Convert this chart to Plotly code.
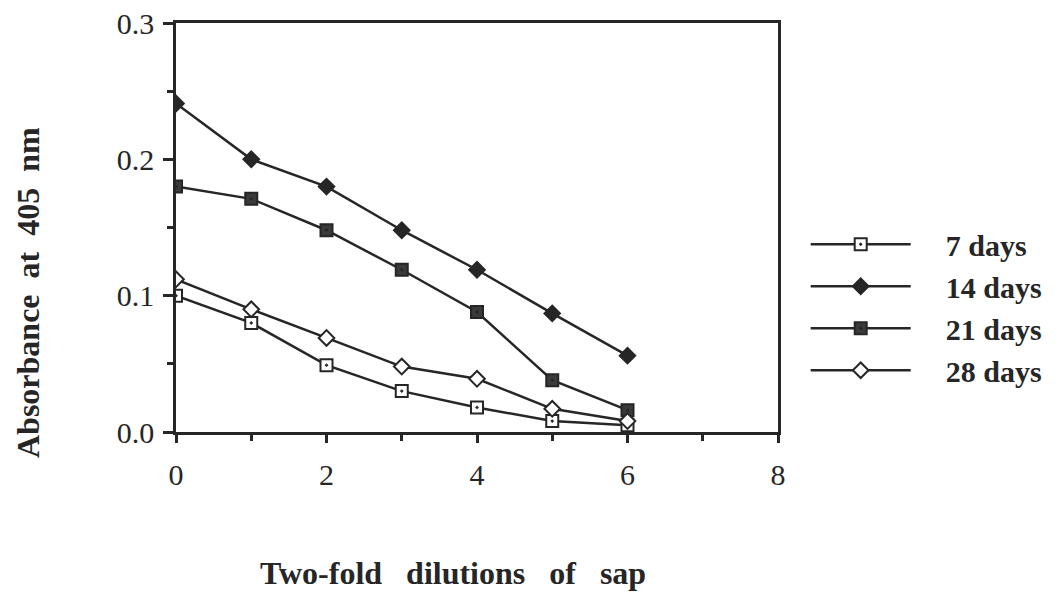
import plotly.graph_objects as go

dilutions = [0, 1, 2, 3, 4, 5, 6]
series_names = ["7 days", "14 days", "21 days", "28 days"]
days7 = [0.100, 0.080, 0.049, 0.030, 0.018, 0.008, 0.005]
days14 = [0.241, 0.200, 0.180, 0.148, 0.119, 0.087, 0.056]
days21 = [0.180, 0.171, 0.148, 0.119, 0.088, 0.038, 0.016]
days28 = [0.112, 0.090, 0.069, 0.048, 0.039, 0.017, 0.008]
y_ticks = [0.0, 0.1, 0.2, 0.3]
y_ticktext = ["0.0", "0.1", "0.2", "0.3"]
x_ticks = [0, 2, 4, 6, 8]
x_title = "Two-fold&nbsp;&nbsp; dilutions&nbsp;&nbsp; of&nbsp;&nbsp; sap"
y_title = "Absorbance&nbsp; at&nbsp; 405&nbsp; nm"

ink = "#262626"
styles = [
    dict(symbol="square-dot", color="white"),
    dict(symbol="diamond", color=ink),
    dict(symbol="square-dot", color="#3a3a3a"),
    dict(symbol="diamond", color="white"),
]

fig = go.Figure()
for name, vals, st in zip(series_names, [days7, days14, days21, days28], styles):
    fig.add_trace(go.Scatter(
        x=dilutions, y=vals, name="&nbsp;&nbsp;&nbsp;&nbsp;" + name, mode="lines+markers",
        line=dict(color=ink, width=2.5),
        marker=dict(symbol=st["symbol"], color=st["color"], size=12,
                    line=dict(color=ink, width=2)),
    ))

serif = "Liberation Serif, Times New Roman, serif"
title_font = dict(size=32, family=serif, color=ink, weight="bold")
fig.update_layout(
    width=1060, height=598,
    margin=dict(l=168, r=290, t=15, b=174, autoexpand=False),
    paper_bgcolor="white", plot_bgcolor="white",
    font=dict(family=serif, color=ink),
    showlegend=True,
    legend=dict(x=1.046, y=0.305, xanchor="left", yanchor="middle",
                font=dict(size=30, family=serif, color=ink, weight="bold"),
                itemwidth=100, tracegroupgap=0, bgcolor="rgba(0,0,0,0)"),
    xaxis=dict(range=[0, 8], tickvals=x_ticks, ticks="outside", ticklen=8,
               tickwidth=2.5, tickcolor=ink, showline=True, linecolor=ink,
               linewidth=2.5, mirror=True, showgrid=False, zeroline=False,
               ticklabelstandoff=6, automargin=False, ticklabeloverflow="allow",
               tickfont=dict(size=30, family=serif, color=ink),
               minor=dict(dtick=1, ticks="outside", ticklen=6, tickwidth=2.5, tickcolor=ink, showgrid=False)),
    yaxis=dict(range=[0, 0.3], tickvals=y_ticks, ticktext=y_ticktext, ticks="outside",
               ticklen=10, tickwidth=2.5, tickcolor=ink, showline=True, linecolor=ink,
               linewidth=2.5, mirror=True, showgrid=False, zeroline=False,
               ticklabelstandoff=3, automargin=False, ticklabeloverflow="allow",
               tickfont=dict(size=30, family=serif, color=ink),
               minor=dict(dtick=0.05, ticks="outside", ticklen=6, tickwidth=2.5, tickcolor=ink, showgrid=False)),
    annotations=[
        dict(text=x_title, xref="paper", yref="paper", x=0.46, y=-0.345,
             xanchor="center", yanchor="middle", showarrow=False, font=title_font),
        dict(text=y_title, xref="paper", yref="paper", x=-0.246, y=0.342,
             xanchor="center", yanchor="middle", showarrow=False, textangle=-90,
             font=title_font),
    ],
)

fig.write_html("out.html")
